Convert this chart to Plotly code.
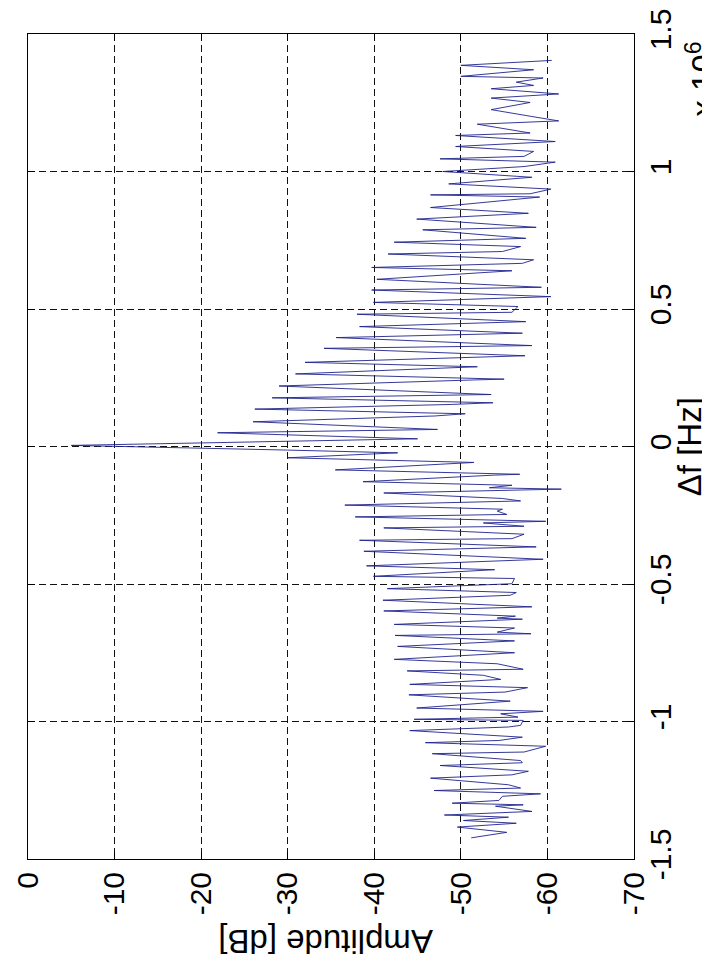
import plotly.graph_objects as go

# Spectrum read from the (rotated) reference: frequency offset in units of 1e6 Hz, amplitude in dB
freq_mhz = [
    1.404, 1.386, 1.370, 1.346, 1.340, 1.325, 1.313, 1.301, 1.282, 1.267, 1.251, 1.225, 1.200, 1.184, 1.172,
    1.140, 1.131, 1.109, 1.091, 1.073, 1.055, 1.046, 1.034, 1.018, 1.000, 0.979, 0.955, 0.936, 0.919, 0.915,
    0.907, 0.869, 0.848, 0.827, 0.797, 0.788, 0.757, 0.743,
    0.727, 0.709, 0.700, 0.679, 0.666, 0.651, 0.639, 0.608, 0.579, 0.569, 0.545, 0.524, 0.509, 0.488, 0.481,
    0.454, 0.436, 0.412, 0.396, 0.367, 0.357, 0.330,
    0.306, 0.290, 0.264, 0.245, 0.242, 0.220, 0.189, 0.177, 0.159, 0.153, 0.136, 0.119, 0.111, 0.090, 0.062,
    0.050, 0.028, 0.004, -0.013, -0.023, -0.041, -0.058, -0.085,
    -0.101, -0.104, -0.128, -0.141, -0.150, -0.155, -0.169, -0.189, -0.198, -0.213, -0.228, -0.235, -0.247,
    -0.256, -0.272, -0.278, -0.290, -0.296, -0.319, -0.335, -0.341, -0.365, -0.381, -0.410, -0.434, -0.448,
    -0.472, -0.480, -0.499, -0.517,
    -0.531, -0.541, -0.559, -0.583, -0.598, -0.617, -0.624, -0.628, -0.647, -0.660, -0.675, -0.681, -0.687,
    -0.707, -0.727, -0.750, -0.774, -0.790, -0.810, -0.816, -0.832, -0.847, -0.865, -0.877, -0.893, -0.903,
    -0.926,
    -0.951, -0.963, -0.972, -0.984, -0.992, -0.996, -1.014, -1.020, -1.033, -1.057, -1.069, -1.077, -1.090,
    -1.111, -1.117, -1.142, -1.150, -1.160, -1.181, -1.194, -1.206, -1.230, -1.242, -1.251, -1.263, -1.272,
    -1.287, -1.297, -1.303, -1.308, -1.327, -1.340,
    -1.348, -1.360, -1.370, -1.384, -1.403, -1.423,
]
amplitude_db = [
    -60.5, -50.0, -58.4, -50.0, -59.5, -56.4, -58.4, -53.5, -61.3, -53.5, -58.0, -53.5, -58.2, -61.3, -51.9,
    -58.0, -49.4, -60.9, -49.4, -58.4, -57.3, -47.6, -60.9, -57.3, -47.9, -58.2, -48.6, -60.4, -58.0, -46.5,
    -59.1, -46.5, -57.8, -44.9, -58.7, -45.6, -57.5, -42.3,
    -56.9, -54.8, -41.6, -58.4, -57.1, -39.7, -55.9, -40.3, -59.3, -39.7, -60.4, -39.9, -56.6, -55.9, -38.0,
    -57.5, -38.3, -57.1, -35.6, -58.2, -34.2, -57.4,
    -32.0, -51.9, -30.9, -55.0, -51.5, -29.0, -53.5, -28.2, -53.7, -49.0, -26.2, -50.5, -47.0, -26.0, -47.3,
    -21.9, -45.0, -5.0, -30.0, -42.7, -30.0, -51.5, -35.5,
    -56.8, -53.9, -38.7, -55.9, -53.3, -61.6, -41.1, -54.8, -56.9, -36.6, -54.8, -54.2, -55.3,
    -37.8, -59.8, -52.6, -57.3, -41.1, -57.3, -55.9, -38.3, -58.7, -38.8, -59.5, -39.1, -53.9,
    -39.9, -56.2, -55.9, -41.5,
    -56.4, -55.7, -41.0, -58.2, -41.1, -56.3, -54.2, -57.1, -42.3, -56.2, -54.2, -58.1, -42.4,
    -56.2, -42.7, -56.2, -42.3, -54.2, -57.2, -43.8, -52.6, -54.6, -44.1, -57.7, -55.1, -44.0,
    -55.7,
    -44.9, -59.5, -54.6, -56.6, -44.6, -57.2, -56.9, -55.5, -44.1, -57.1, -54.4, -45.9, -59.8,
    -57.3, -46.7, -56.9, -57.1, -47.6, -57.8, -55.9, -46.5, -55.5, -56.9, -46.9, -59.2, -54.8,
    -54.4, -49.0, -57.2, -54.0, -58.2, -48.1,
    -55.5, -50.3, -56.4, -49.6, -55.3, -51.2,
]

amp_ticks = [0, -10, -20, -30, -40, -50, -60, -70]
amp_ticktext = ["0", "-10", "-20", "-30", "-40", "-50", "-60", "-70"]
freq_ticks = [-1.5, -1, -0.5, 0, 0.5, 1, 1.5]
freq_ticktext = ["-1.5", "-1", "-0.5", "0", "0.5", "1", "1.5"]

FONT = "Liberation Sans, Arial, Helvetica, sans-serif"
FS = 30
FS_LABEL = 33

fig = go.Figure()
fig.add_trace(go.Scatter(
    x=amplitude_db, y=freq_mhz, mode="lines",
    line=dict(color="#1e238c", width=0.9),
    showlegend=False, hoverinfo="skip",
))

axis_common = dict(
    showline=True, linecolor="black", linewidth=1, mirror="ticks",
    ticks="inside", ticklen=7, tickcolor="black", tickwidth=1,
    showgrid=True, gridcolor="#111", gridwidth=0.8, griddash="7px,4px",
    zeroline=False, tickangle=-90, automargin=False,
    tickfont=dict(family=FONT, size=FS, color="black"),
)

fig.update_layout(
    width=710, height=967,
    margin=dict(l=20, r=84, t=26, b=116),
    paper_bgcolor="white", plot_bgcolor="white",
    xaxis=dict(range=[0, -70], tickvals=amp_ticks, ticktext=amp_ticktext, **axis_common),
    yaxis=dict(range=[-1.5, 1.5], side="right", tickvals=freq_ticks, ticktext=freq_ticktext, **axis_common),
    annotations=[
        dict(text="Amplitude [dB]", textangle=180, x=0.49, y=-0.1, xref="paper", yref="paper",
             showarrow=False, xanchor="center", yanchor="middle",
             font=dict(family=FONT, size=FS_LABEL, color="black")),
        dict(text="Δf [Hz]", textangle=-90, x=1.092, y=0.5, xref="paper", yref="paper",
             showarrow=False, xanchor="center", yanchor="middle",
             font=dict(family=FONT, size=FS_LABEL, color="black")),
        dict(text="x 10<sup>6</sup>", textangle=-90, x=1.111, y=0.945, xref="paper", yref="paper",
             showarrow=False, xanchor="center", yanchor="middle",
             font=dict(family=FONT, size=FS_LABEL, color="black")),
    ],
)

fig.write_html("out.html")
